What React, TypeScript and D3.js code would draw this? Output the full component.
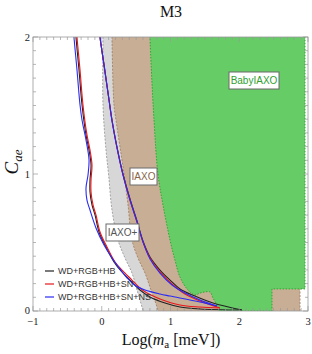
import React from 'react';
import * as d3 from 'd3';

const W = 312, H = 354;
const PL = 33, PR = 308, PT = 37, PB = 311;

const xMajor = [-1, 0, 1, 2, 3];
const xMajorLabels = ['\u22121', '0', '1', '2', '3'];
const yMajor = [0, 1, 2];
const yMajorLabels = ['0', '1', '2'];

// BabyIAXO left/lower boundary (top -> bottom)
const babyBoundary: [number, number][] = [
  [0.702, 2.05], [0.702, 2.0], [0.76, 1.394], [0.818, 1.0], [0.891, 0.774], [0.993, 0.518],
  [1.065, 0.372], [1.138, 0.248], [1.255, 0.153], [1.356, 0.117], [1.429, 0.131],
  [1.502, 0.139], [1.575, 0.139], [1.618, 0.095], [1.691, 0.029], [1.705, 0],
];
const babyCorners: [number, number][] = [
  [2.476, 0], [2.476, 0.161], [2.956, 0.161], [2.956, 2.05],
];
// IAXO left boundary
const iaxoBoundary: [number, number][] = [
  [0.149, 2.05], [0.149, 2.0], [0.178, 1.504], [0.207, 1.394], [0.324, 1.0], [0.382, 0.774],
  [0.44, 0.518], [0.527, 0.387], [0.629, 0.277], [0.716, 0.153], [0.804, 0.029], [0.818, 0],
];
const iaxoRight = 2.884;
// IAXO+ left boundary
const iaxoPlusBoundary: [number, number][] = [
  [0.018, 2.05], [0.018, 2.0], [0.018, 1.504], [0.062, 1.175], [0.1, 0.993], [0.149, 0.737],
  [0.236, 0.518], [0.338, 0.387], [0.44, 0.277], [0.513, 0.153], [0.585, 0.029], [0.6, 0],
];

// WD+RGB+HB (black)
const blackLeft: [number, number][] = [
  [-0.38, 2.05], [-0.375, 2.0], [-0.331, 1.759], [-0.287, 1.504], [-0.229, 1.285], [-0.185, 1.175],
  [-0.156, 1.066], [-0.171, 0.956], [-0.171, 0.869], [-0.142, 0.774], [-0.098, 0.701],
  [-0.04, 0.577], [0.062, 0.467], [0.178, 0.358], [0.28, 0.292], [0.426, 0.219],
  [0.556, 0.153], [0.702, 0.102], [0.92, 0.058], [1.138, 0.029], [1.429, 0.015], [2.04, 0.007],
];
const blackRight: [number, number][] = [
  [2.04, 0.007], [1.618, 0.058], [1.356, 0.109], [1.138, 0.161], [0.993, 0.226], [0.847, 0.299],
  [0.702, 0.394], [0.6, 0.511], [0.513, 0.657], [0.411, 0.818], [0.309, 1.0], [0.222, 1.197],
  [0.149, 1.394], [0.106, 1.54], [0.033, 1.796], [-0.025, 2.0], [-0.03, 2.05],
];
// WD+RGB+HB+SN (red)
const redLeft: [number, number][] = [
  [-0.365, 2.05], [-0.36, 2.0], [-0.316, 1.759], [-0.273, 1.504], [-0.215, 1.285], [-0.171, 1.175],
  [-0.142, 1.066], [-0.156, 0.956], [-0.156, 0.869], [-0.127, 0.774], [-0.084, 0.701],
  [-0.025, 0.577], [0.076, 0.467], [0.193, 0.358], [0.295, 0.299], [0.44, 0.226],
  [0.556, 0.168], [0.658, 0.131], [0.847, 0.088], [1.138, 0.044], [1.429, 0.029], [1.72, 0.022],
];
const redRight: [number, number][] = [
  [1.72, 0.022], [1.429, 0.073], [1.211, 0.124], [1.022, 0.197], [0.847, 0.285], [0.702, 0.387],
  [0.6, 0.504], [0.513, 0.65], [0.411, 0.81], [0.309, 0.993], [0.222, 1.19], [0.149, 1.394],
  [0.106, 1.54], [0.033, 1.796], [-0.025, 2.0], [-0.03, 2.05],
];
// WD+RGB+HB+SN+NS (blue)
const blueLeft: [number, number][] = [
  [-0.41, 2.05], [-0.404, 2.0], [-0.36, 1.759], [-0.316, 1.504], [-0.287, 1.394], [-0.229, 1.248],
  [-0.185, 1.102], [-0.2, 0.993], [-0.229, 0.898], [-0.215, 0.81], [-0.171, 0.737],
  [-0.084, 0.606], [0.033, 0.482], [0.149, 0.387], [0.265, 0.307], [0.382, 0.234],
  [0.498, 0.182], [0.629, 0.153], [0.847, 0.124], [0.993, 0.109], [1.429, 0.066], [1.676, 0.036],
];
const blueRight: [number, number][] = [
  [1.676, 0.036], [1.429, 0.08], [1.211, 0.131], [1.022, 0.19], [0.847, 0.277], [0.702, 0.38],
  [0.6, 0.504], [0.513, 0.65], [0.411, 0.81], [0.309, 0.993], [0.222, 1.19], [0.149, 1.387],
  [0.106, 1.54], [0.033, 1.796], [-0.025, 2.0], [-0.03, 2.05],
];

const legendNames = ['WD+RGB+HB', 'WD+RGB+HB+SN', 'WD+RGB+HB+SN+NS'];
const legendColors = ['#222222', '#e8161b', '#2a2af5'];

export default function App() {
  const x = d3.scaleLinear().domain([-1, 3]).range([PL, PR]);
  const y = d3.scaleLinear().domain([0, 2]).range([PB, PT]);
  const smooth = d3.line<[number, number]>().x(d => x(d[0])).y(d => y(d[1])).curve(d3.curveCatmullRom.alpha(0.5));
  const lin = (pts: [number, number][]) => pts.map(p => `L${x(p[0])},${y(p[1])}`).join('');

  const babyPath = smooth(babyBoundary) + lin(babyCorners) + 'Z';
  const iaxoPath = smooth(iaxoBoundary) + lin([[iaxoRight, 0], [iaxoRight, 2.05]]) + 'Z';
  const plusPath = smooth(iaxoPlusBoundary) + lin([[2, 0], [2, 2.05]]) + 'Z';
  const babyEdge = smooth(babyBoundary) + lin(babyCorners);
  const iaxoEdge = smooth(iaxoBoundary);

  const minorX = d3.range(-1, 3.0001, 0.1).map(v => +v.toFixed(2));
  const minorY = d3.range(0, 2.0001, 0.1).map(v => +v.toFixed(2));
  const isMajor = (v: number) => Math.abs(v - Math.round(v)) < 1e-6;
  const tickColor = '#9a9a9a';

  const lines: [[number, number][], [number, number][], string][] = [
    [blackLeft, blackRight, legendColors[0]],
    [redLeft, redRight, legendColors[1]],
    [blueLeft, blueRight, legendColors[2]],
  ];

  const box = (bx: number, by: number, w: number, h: number, text: string, color: string) => (
    <g>
      <rect x={bx} y={by} width={w} height={h} fill="#fff" stroke="#6a6a6a" strokeWidth={1} />
      <text x={bx + w / 2} y={by + h / 2 + 3.6} textAnchor="middle" fontFamily="Liberation Sans, Arial, sans-serif" fontSize={10} fill={color}>{text}</text>
    </g>
  );

  return (
    <svg width={W} height={H} style={{ position: 'absolute', left: 0, top: 0 }} xmlns="http://www.w3.org/2000/svg">
      <rect width={W} height={H} fill="#fff" />
      <defs>
        <clipPath id="plot"><rect x={PL} y={PT} width={PR - PL} height={PB - PT} /></clipPath>
      </defs>
      <g clipPath="url(#plot)">
        <path d={plusPath} fill="#d7d7d7" />
        <path d={smooth(iaxoPlusBoundary) || ''} fill="none" stroke="#8f8f8f" strokeWidth={0.8} strokeDasharray="2,1.5" />
        <path d={iaxoPath} fill="#c9ae96" />
        <path d={iaxoEdge || ''} fill="none" stroke="#9c7a5c" strokeWidth={0.8} strokeDasharray="2,1.5" />
        <line x1={x(iaxoRight)} x2={x(iaxoRight)} y1={y(0)} y2={y(0.161)} stroke="#9c7a5c" strokeWidth={0.8} strokeDasharray="2,1.5" />
        <path d={babyPath} fill="#66cc66" />
        <path d={babyEdge} fill="none" stroke="#2fa82f" strokeWidth={1} strokeDasharray="1.5,1.5" />
        {lines.map(([l, r, c], i) => (
          <g key={i}>
            <path d={smooth(l) || ''} fill="none" stroke={c} strokeWidth={1.1} />
            <path d={smooth(r) || ''} fill="none" stroke={c} strokeWidth={1.1} />
          </g>
        ))}
      </g>

      {/* frame */}
      <rect x={PL} y={PT} width={PR - PL} height={PB - PT} fill="none" stroke={tickColor} strokeWidth={0.8} />
      {minorX.map((v, i) => {
        const len = isMajor(v) ? 5 : 3;
        return (
          <g key={'x' + i}>
            <line x1={x(v)} x2={x(v)} y1={PB} y2={PB - len} stroke={tickColor} strokeWidth={0.7} />
            <line x1={x(v)} x2={x(v)} y1={PT} y2={PT + len} stroke={tickColor} strokeWidth={0.7} />
          </g>
        );
      })}
      {minorY.map((v, i) => {
        const len = isMajor(v) ? 5 : 3;
        return (
          <g key={'y' + i}>
            <line x1={PL} x2={PL + len} y1={y(v)} y2={y(v)} stroke={tickColor} strokeWidth={0.7} />
            <line x1={PR} x2={PR - len} y1={y(v)} y2={y(v)} stroke={tickColor} strokeWidth={0.7} />
          </g>
        );
      })}
      {xMajor.map((v, i) => (
        <text key={'xl' + i} x={x(v)} y={325} textAnchor="middle" fontFamily="Liberation Serif, Times New Roman, serif" fontSize={10.5} fill="#222">{xMajorLabels[i]}</text>
      ))}
      {yMajor.map((v, i) => (
        <text key={'yl' + i} x={30} y={y(v) + (v === 0 ? 2.5 : 3.6)} textAnchor="end" fontFamily="Liberation Serif, Times New Roman, serif" fontSize={10.5} fill="#222">{yMajorLabels[i]}</text>
      ))}

      {/* labels on plot */}
      {box(229, 72, 50, 17, 'BabyIAXO', '#2f9f2f')}
      {box(130, 168, 27, 17, 'IAXO', '#8a6446')}
      {box(106, 224, 33, 17, 'IAXO+', '#555')}

      {/* legend */}
      {legendNames.map((n, i) => (
        <g key={'lg' + i}>
          <line x1={45} x2={54} y1={271 + i * 13} y2={271 + i * 13} stroke={legendColors[i]} strokeWidth={1.2} />
          <text x={58} y={271 + i * 13 + 3.2} fontFamily="Liberation Sans, Arial, sans-serif" fontSize={9} fill="#333">{n}</text>
        </g>
      ))}

      {/* titles */}
      <text x={171} y={17} textAnchor="middle" fontFamily="Liberation Serif, Times New Roman, serif" fontSize={16} fill="#111">M3</text>
      <text x={171} y={345} textAnchor="middle" fontFamily="Liberation Serif, Times New Roman, serif" fontSize={16} fill="#111">
        Log(<tspan fontStyle="italic">m</tspan><tspan fontSize={11} dy={3}>a</tspan><tspan dy={-3}> [meV])</tspan>
      </text>
      <text transform={`translate(18,${(PT + PB) / 2 - 12}) rotate(-90)`} textAnchor="middle" fontFamily="Liberation Serif, Times New Roman, serif" fontSize={19} fontStyle="italic" fill="#111">
        C<tspan fontSize={13} dy={4}>ae</tspan>
      </text>
    </svg>
  );
}
